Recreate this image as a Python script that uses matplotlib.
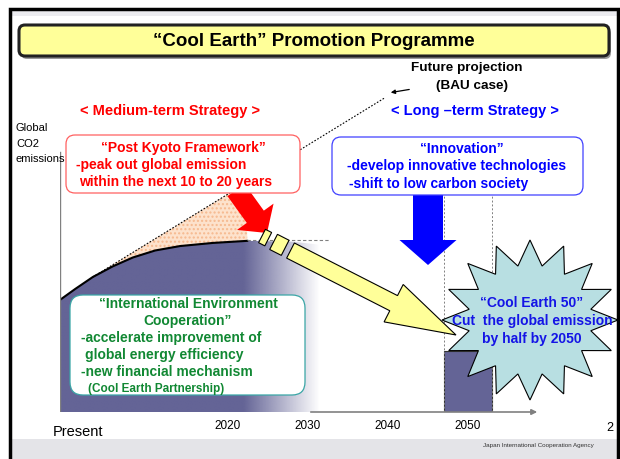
import numpy as np
import matplotlib
matplotlib.use("Agg")
import matplotlib.pyplot as plt
from matplotlib.patches import Polygon, Rectangle, FancyBboxPatch

plt.rcParams["font.family"] = ["Liberation Sans", "DejaVu Sans"]

# emission curve (years, index of global CO2 emissions)
curve_years = [1999, 2000.9, 2003.1, 2005.6, 2008.1, 2010.9, 2014, 2018.1, 2022.4]
curve_values = [43.1, 47.3, 51.9, 56.0, 59.4, 62.1, 63.8, 65.0, 65.8]
fade_years = [2028, 2034]
fade_values = [65.5, 63.5]

# business-as-usual projection (dotted line)
bau_years = [2003.1, 2039.5]
bau_values = [51.9, 120.6]

# peak level (dashed) and the 2050 target bar
peak_years = [2022.4, 2032.6]
peak_value = 66
target_year = 2050
target_value = 23.5
guide_years = [2047, 2053]
guide_top = 83.5

tick_years = [2020, 2030, 2040, 2050]
tick_labels = ["2020", "2030", "2040", "2050"]

PURPLE = "#646496"
RED = "#ff0000"
BLUE = "#0000ff"
GREEN = "#118833"
GRAY = "#808080"

W, H = 620, 459
fig = plt.figure(figsize=(W / 100, H / 100), dpi=100)

# ---- chart axes (years vs emissions) ----
px0, px1, py_bot, py_top = 60, 540, 412, 90
cx = fig.add_axes([px0 / W, (H - py_bot) / H, (px1 - px0) / W, (py_bot - py_top) / H])
cx.set_zorder(1)
cx.patch.set_alpha(0)

# purple area with fade to white
area_x = [curve_years[0]] + curve_years + fade_years + [fade_years[-1]]
area_y = [0] + curve_values + fade_values + [0]
clip = Polygon(np.column_stack([area_x, area_y]), closed=True, transform=cx.transData,
               facecolor="none", edgecolor="none")
cx.add_patch(clip)
grad = np.zeros((1, 300, 4))
grad[..., :3] = matplotlib.colors.to_rgb(PURPLE)
gx = np.linspace(1999, 2034, 300)
grad[0, :, 3] = np.clip((2031.5 - gx) / (2031.5 - 2022), 0, 1)
im = cx.imshow(grad, extent=[1999, 2034, 0, 70], aspect="auto", origin="lower",
               interpolation="bilinear")
im.set_clip_path(clip)

# orange BAU gap
slope = (bau_values[1] - bau_values[0]) / (bau_years[1] - bau_years[0])
bau_end = bau_values[0] + slope * (curve_years[-1] - bau_years[0])
gap_x = [bau_years[0], curve_years[-1]] + curve_years[::-1][:-2]
gap_y = [bau_values[0], bau_end] + curve_values[::-1][:-2]
cx.add_patch(Polygon(np.column_stack([gap_x, gap_y]), closed=True, facecolor="#fde2cc",
                     edgecolor="#f6b98f", hatch="....", linewidth=0))

cx.plot(curve_years, curve_values, color="black", lw=1.5)
cx.plot(bau_years, bau_values, color="black", lw=0.8, ls=(0, (1.5, 1.5)))
cx.plot(peak_years, [peak_value] * 2, color=GRAY, lw=0.8, ls=(0, (3, 2)))
for gy in guide_years:
    cx.plot([gy, gy], [0, guide_top], color=GRAY, lw=0.7, ls=(0, (2, 2)))
cx.bar([target_year], [target_value], width=5.9, color=PURPLE, edgecolor="#333333", lw=0.8)

cx.annotate("", xy=(2059, 0), xytext=(2030, 0),
            arrowprops=dict(arrowstyle="-|>", color=GRAY, lw=1.2, mutation_scale=8))
cx.plot([1999, 1999], [0, 100], color=GRAY, lw=1)

cx.set_xlim(1999, 2059)
cx.set_ylim(0, 123.8)
for s in cx.spines.values():
    s.set_visible(False)
cx.set_xticks(tick_years)
cx.set_xticklabels(tick_labels, fontsize=8.5)
cx.tick_params(axis="x", length=0, pad=6)
cx.set_yticks([])

# ---- overlay axes in pixels ----
ax = fig.add_axes([0, 0, 1, 1])
ax.set_zorder(2)
ax.patch.set_alpha(0)
ax.set_xlim(0, W)
ax.set_ylim(H, 0)
ax.axis("off")

# slide frame
ax.add_patch(Rectangle((11, 9), 607, 7, color="#ececf0", lw=0))
ax.add_patch(Rectangle((11, 439), 607, 20, color="#e4e4e8", lw=0))
ax.plot([10, 10, 618, 618], [H, 8.5, 8.5, H], color="black", lw=2.5, solid_joinstyle="miter")

# title bar
ax.add_patch(FancyBboxPatch((21, 28), 590, 31, boxstyle="round,pad=0,rounding_size=6",
                            facecolor="#9a9a9a", edgecolor="none"))
ax.add_patch(FancyBboxPatch((19, 25), 590, 31, boxstyle="round,pad=0,rounding_size=6",
                            facecolor="#ffff99", edgecolor="#222222", lw=2.2))
ax.text(314, 41, "\u201cCool Earth\u201d Promotion Programme", ha="center", va="center",
        fontsize=13.5, fontweight="bold")

ax.text(467, 68, "Future projection", ha="center", va="center", fontsize=9.7, fontweight="bold")
ax.text(472, 86, "(BAU case)", ha="center", va="center", fontsize=9.7, fontweight="bold")
ax.annotate("", xy=(388, 93), xytext=(412, 89),
            arrowprops=dict(arrowstyle="-|>", color="black", lw=0.9, mutation_scale=6))

ax.text(170, 111, "< Medium-term Strategy >", ha="center", va="center", fontsize=10.5,
        fontweight="bold", color=RED)
ax.text(475, 111, "< Long \u2013term Strategy >", ha="center", va="center", fontsize=10.5,
        fontweight="bold", color=BLUE)
for yy, s in [(128, "Global"), (144, "CO2"), (159, "emissions")]:
    ax.text(16, yy, s, ha="left", va="center", fontsize=8)


def arrow_shape(x0, y0, x1, y1, shaft_w, head_w, head_len):
    p0 = np.array([x0, y0], float)
    p1 = np.array([x1, y1], float)
    d = p1 - p0
    L = np.hypot(*d)
    u = d / L
    n = np.array([-u[1], u[0]])
    b = p0 + u * (L - head_len)
    return [p0 + n * shaft_w / 2, b + n * shaft_w / 2, b + n * head_w / 2, p1,
            b - n * head_w / 2, b - n * shaft_w / 2, p0 - n * shaft_w / 2]


# red arrow
ax.add_patch(Polygon(arrow_shape(236, 190, 267, 233, 21, 45, 20), color=RED, lw=0))
# blue arrow
ax.add_patch(Polygon(arrow_shape(428, 195, 428, 265, 30, 57, 25), color=BLUE, lw=0))

# yellow segmented arrow
ys, ye = np.array([262.0, 236.0]), np.array([456.0, 335.0])
u = (ye - ys) / np.hypot(*(ye - ys))
nv = np.array([-u[1], u[0]])
for t0, t1, w in [(0, 7, 15), (13, 26, 17)]:
    a, b = ys + u * t0, ys + u * t1
    ax.add_patch(Polygon([a + nv * w / 2, b + nv * w / 2, b - nv * w / 2, a - nv * w / 2],
                         facecolor="#ffff99", edgecolor="black", lw=0.8))
st = ys + u * 32
ax.add_patch(Polygon(arrow_shape(st[0], st[1], ye[0], ye[1], 17, 42, 70),
                     facecolor="#ffff99", edgecolor="black", lw=0.8))


# text boxes
def rbox(x0, y0, x1, y1, ec, r):
    ax.add_patch(FancyBboxPatch((x0, y0), x1 - x0, y1 - y0,
                                boxstyle=f"round,pad=0,rounding_size={r}",
                                facecolor="white", edgecolor=ec, lw=0.9))


rbox(66, 135, 300, 193, "#ff6060", 9)
ax.text(183, 148, "\u201cPost Kyoto Framework\u201d", ha="center", va="center", fontsize=10,
        fontweight="bold", color=RED)
ax.text(76, 165, "-peak out global emission", ha="left", va="center", fontsize=10,
        fontweight="bold", color=RED)
ax.text(79, 182, "within the next 10 to 20 years", ha="left", va="center", fontsize=10,
        fontweight="bold", color=RED)

rbox(332, 137, 583, 195, "#4040ff", 9)
ax.text(462, 149, "\u201cInnovation\u201d", ha="center", va="center", fontsize=10,
        fontweight="bold", color=BLUE)
ax.text(347, 166, "-develop innovative technologies", ha="left", va="center", fontsize=10,
        fontweight="bold", color=BLUE)
ax.text(349, 184, "-shift to low carbon society", ha="left", va="center", fontsize=10,
        fontweight="bold", color=BLUE)

rbox(70, 295, 305, 395, "#3aa6a6", 13)
ax.text(188, 304, "\u201cInternational Environment", ha="center", va="center", fontsize=10,
        fontweight="bold", color=GREEN)
ax.text(188, 321, "Cooperation\u201d", ha="center", va="center", fontsize=10,
        fontweight="bold", color=GREEN)
ax.text(81, 338, "-accelerate improvement of", ha="left", va="center", fontsize=10,
        fontweight="bold", color=GREEN)
ax.text(85, 355, "global energy efficiency", ha="left", va="center", fontsize=10,
        fontweight="bold", color=GREEN)
ax.text(81, 372, "-new financial mechanism", ha="left", va="center", fontsize=10,
        fontweight="bold", color=GREEN)
ax.text(88, 389, "(Cool Earth Partnership)", ha="left", va="center", fontsize=8.5,
        fontweight="bold", color=GREEN)

# starburst
n_sp = 16
ang = -np.pi / 2 + np.arange(2 * n_sp) * np.pi / n_sp
rx = np.where(np.arange(2 * n_sp) % 2 == 0, 88, 62)
ry = np.where(np.arange(2 * n_sp) % 2 == 0, 80, 55)
star = np.column_stack([530 + rx * np.cos(ang), 320 + ry * np.sin(ang)])
ax.add_patch(Polygon(star, closed=True, facecolor="#b8dfe2", edgecolor="black", lw=0.8))
for yy, s in [(303, "\u201cCool Earth 50\u201d"), (321, "Cut  the global emission"),
              (339, "by half by 2050")]:
    ax.text(532, yy, s, ha="center", va="center", fontsize=10, fontweight="bold",
            color="#1414e6")

ax.text(53, 432, "Present", ha="left", va="center", fontsize=10.5)
ax.text(610, 428, "2", ha="center", va="center", fontsize=9)
ax.text(538, 445, "Japan International Cooperation Agency", ha="center", va="center",
        fontsize=4.5, color="#333333")

fig.savefig("out.png", dpi=100)
